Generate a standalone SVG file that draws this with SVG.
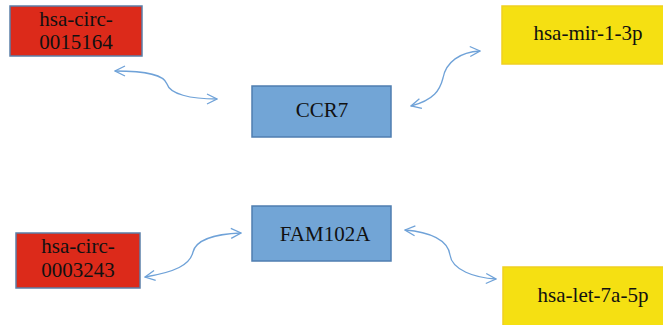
<svg xmlns="http://www.w3.org/2000/svg" width="663" height="325" viewBox="0 0 663 325">
<style>
.t{font-family:'Liberation Serif','Times New Roman','DejaVu Serif',serif;font-size:21px;fill:#111;text-anchor:middle}
.red{fill:#dc2a1a;stroke:#5b7fa8;stroke-width:1.5}
.yel{fill:#f5e012;stroke:#f0d020;stroke-width:1.5}
.blu{fill:#72a5d6;stroke:#4f7eb0;stroke-width:1.5}
.c{fill:none;stroke:#6fa2d8;stroke-width:1.3;marker-start:url(#a);marker-end:url(#a)}
</style>
<defs>
<marker id="a" viewBox="0 0 12 12" refX="11" refY="6" markerWidth="12" markerHeight="12" markerUnits="userSpaceOnUse" orient="auto-start-reverse">
<path d="M1,1 L11,6 L1,11" fill="none" stroke="#6fa2d8" stroke-width="1.3"/>
</marker>
</defs>
<g id="connectors">
<path class="c" d="M115,71 C148,71 164,75 167,84 C170,94 190,99 217,99"/>
<path class="c" d="M411,106 C434,100 440,90 443,78 C446,62 460,52 480,51"/>
<path class="c" d="M145,277 C175,272 190,265 193,252 C196,240 215,234 241,233"/>
<path class="c" d="M405,230 C430,232 448,240 450,255 C452,270 475,278 496,279"/>
</g>
<g id="n1"><rect class="red" x="10" y="6" width="132" height="50"/><text class="t" x="76" y="26" font-family="Liberation Serif, serif">hsa-circ-</text><text class="t" x="76" y="49" font-family="Liberation Serif, serif">0015164</text></g>
<g id="n2"><rect class="yel" x="502" y="6" width="162" height="58"/><text class="t" x="588" y="40">hsa-mir-1-3p</text></g>
<g id="n3"><rect class="blu" x="252" y="86" width="139" height="51"/><text class="t" x="322" y="117">CCR7</text></g>
<g id="n4"><rect class="blu" x="252" y="206" width="139" height="55"/><text class="t" x="325" y="241">FAM102A</text></g>
<g id="n5"><rect class="red" x="16" y="233" width="124" height="55"/><text class="t" x="78" y="253">hsa-circ-</text><text class="t" x="78" y="277">0003243</text></g>
<g id="n6"><rect class="yel" x="503" y="267" width="162" height="60"/><text class="t" x="593" y="302">hsa-let-7a-5p</text></g>
</svg>
